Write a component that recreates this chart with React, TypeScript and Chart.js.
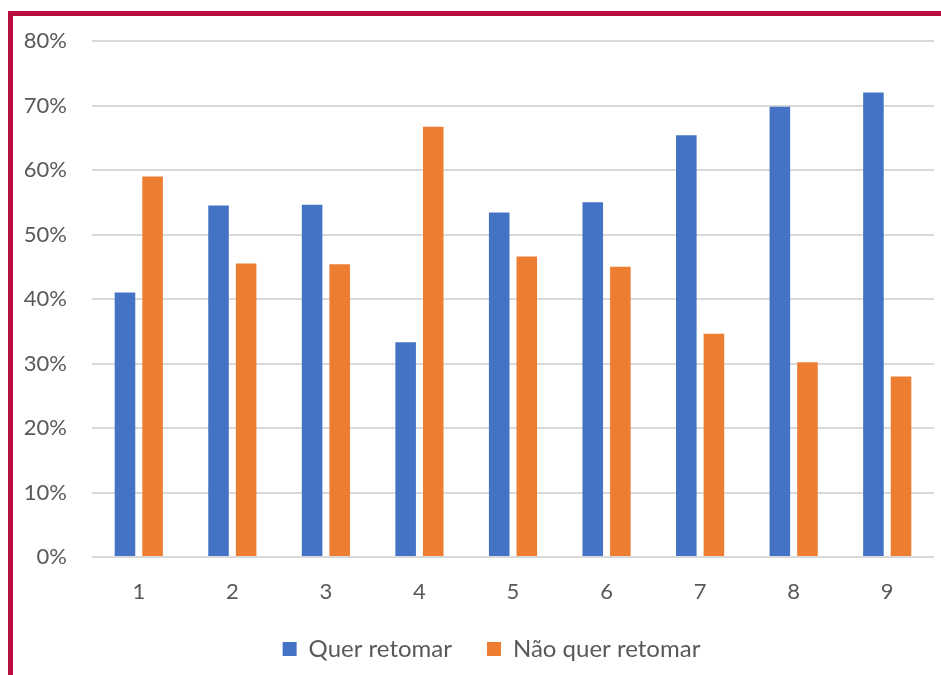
import React, { useEffect, useRef } from "react";
import { Chart, registerables } from "chart.js";

Chart.register(...registerables);

const categories = ["1", "2", "3", "4", "5", "6", "7", "8", "9"];
const querRetomar = [41.0, 54.5, 54.6, 33.3, 53.4, 55.0, 65.4, 69.8, 72.0];
const naoQuerRetomar = [59.0, 45.5, 45.4, 66.7, 46.6, 45.0, 34.6, 30.2, 28.0];
const seriesNames = ["Quer retomar", "Não quer retomar"];
const yMax = 80;
const yStep = 10;

const FONT = "Lato, 'Open Sans', sans-serif";
const TEXT = "#595959";

// Nudges the legend row to the right so it sits centred under the plot.
const legendShift = {
  id: "legendShift",
  afterLayout(chart: any) {
    const lg = chart.legend;
    if (lg) {
      lg.left += 18;
      lg.right += 18;
    }
  },
};

export default function App() {
  const ref = useRef<HTMLCanvasElement | null>(null);

  useEffect(() => {
    if (!ref.current) return;
    const chart = new Chart(ref.current, {
      type: "bar",
      data: {
        labels: categories,
        datasets: [
          {
            label: seriesNames[0],
            data: querRetomar,
            backgroundColor: "#4472C4",
            categoryPercentage: 0.59,
            barPercentage: 0.745,
          },
          {
            label: seriesNames[1],
            data: naoQuerRetomar,
            backgroundColor: "#ED7D31",
            categoryPercentage: 0.59,
            barPercentage: 0.745,
          },
        ],
      },
      options: {
        animation: false,
        responsive: false,
        layout: { padding: { left: 13, right: 7, top: 41, bottom: 4 } },
        plugins: {
          tooltip: { enabled: false },
          legend: {
            position: "bottom",
            labels: {
              font: { family: FONT, size: 24 },
              color: TEXT,
              boxWidth: 14,
              boxHeight: 14,
              padding: 35,
            },
          },
        },
        scales: {
          x: {
            grid: { display: false, drawTicks: false },
            border: { display: false },
            ticks: { font: { family: FONT, size: 22 }, color: TEXT, padding: 22 },
            afterFit: (scale: any) => {
              scale.height = 45;
            },
          },
          y: {
            min: 0,
            max: yMax,
            grid: { color: "#D9D9D9", lineWidth: 2, drawTicks: false },
            border: { display: false },
            ticks: {
              stepSize: yStep,
              font: { family: FONT, size: 22 },
              color: TEXT,
              padding: 25,
              callback: (v: any) => `${v}%`,
            },
            afterFit: (scale: any) => {
              scale.width = 79;
            },
          },
        },
      },
      plugins: [legendShift],
    });
    return () => chart.destroy();
  }, []);

  return (
    <div style={{ position: "fixed", left: 0, top: 0, width: 941, height: 675, background: "#fff", overflow: "hidden" }}>
      <div
        style={{
          position: "absolute",
          left: 8,
          top: 11,
          width: 1000,
          height: 800,
          borderLeft: "5px solid #BA0C3F",
          borderTop: "5px solid #BA0C3F",
        }}
      />
      <canvas ref={ref} width={941} height={675} style={{ position: "absolute", left: 0, top: 0 }} />
    </div>
  );
}
